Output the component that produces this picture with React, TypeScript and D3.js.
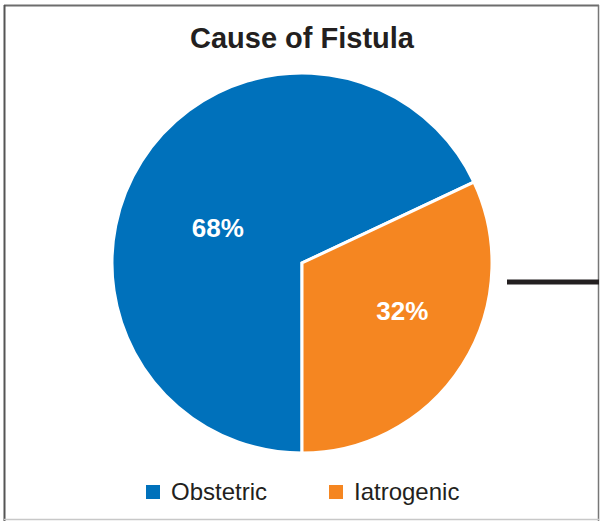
import React from "react";
import * as d3 from "d3";

const categories = ["Obstetric", "Iatrogenic"];
const values = [68, 32];
const colors = ["#0071BB", "#F58621"];
const title = "Cause of Fistula";

// label nudges relative to arc centroid
const labelNudge: [number, number][] = [
  [4, 21],
  [12, -8],
];

export default function App() {
  const width = 600;
  const height = 521;
  const cx = 302;
  const cy = 263;
  const r = 190;

  const pie = d3
    .pie<number>()
    .sort(null)
    .startAngle(Math.PI)
    .endAngle(Math.PI * 3);
  const arcs = pie(values);
  const arcGen = d3.arc<d3.PieArcDatum<number>>().innerRadius(0).outerRadius(r);
  const labelArc = d3
    .arc<d3.PieArcDatum<number>>()
    .innerRadius(r * 0.55)
    .outerRadius(r * 0.55);

  const legendX = [146, 329];

  return (
    <svg
      width={width}
      height={height}
      style={{ position: "absolute", left: 0, top: 0 }}
      fontFamily="'Liberation Sans', Arial, sans-serif"
    >
      <rect x={0} y={0} width={width} height={height} fill="#fff" />
      <line x1={4} y1={5.5} x2={599} y2={5.5} stroke="#6d6d6d" strokeWidth={2} />
      <line x1={4.5} y1={5} x2={4.5} y2={521} stroke="#555" strokeWidth={2} />
      <line x1={598.5} y1={5} x2={598.5} y2={521} stroke="#777" strokeWidth={1.5} />
      <line x1={4} y1={519.5} x2={599} y2={519.5} stroke="#c8c8c8" strokeWidth={1.5} />
      <text
        x={cx}
        y={48}
        textAnchor="middle"
        fontSize={29}
        fontWeight="bold"
        fill="#231f20"
      >
        {title}
      </text>
      <g transform={`translate(${cx},${cy})`}>
        {arcs.map((a, i) => (
          <path key={i} d={arcGen(a) || ""} fill={colors[i]} stroke="#fff" strokeWidth={3} strokeLinejoin="miter" />
        ))}
        {arcs.map((a, i) => {
          const [lx, ly] = labelArc.centroid(a);
          return (
            <text
              key={"l" + i}
              x={lx + labelNudge[i][0]}
              y={ly + labelNudge[i][1]}
              textAnchor="middle"
              dominantBaseline="central"
              fontSize={26}
              fontWeight="bold"
              fill="#fff"
            >
              {values[i]}%
            </text>
          );
        })}
      </g>
      <line x1={507} y1={282} x2={599} y2={282} stroke="#231f20" strokeWidth={5} />
      {categories.map((c, i) => (
        <g key={c}>
          <rect x={legendX[i]} y={485} width={14} height={14} fill={colors[i]} />
          <text x={legendX[i] + 25} y={500} fontSize={24} fill="#231f20">
            {c}
          </text>
        </g>
      ))}
    </svg>
  );
}
